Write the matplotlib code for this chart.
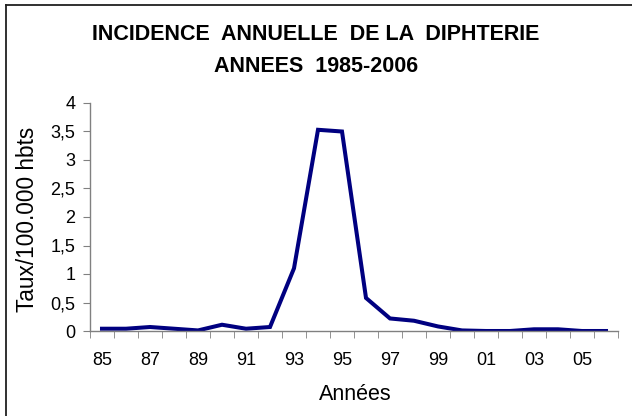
import matplotlib.pyplot as plt
from matplotlib.lines import Line2D

# data
annees = ['85', '86', '87', '88', '89', '90', '91', '92', '93', '94', '95',
          '96', '97', '98', '99', '00', '01', '02', '03', '04', '05', '06']
taux = [0.04, 0.04, 0.07, 0.04, 0.01, 0.11, 0.04, 0.07, 1.1, 3.53, 3.5,
        0.58, 0.22, 0.18, 0.08, 0.01, 0.0, 0.0, 0.03, 0.03, 0.0, 0.0]
y_ticks = [0, 0.5, 1, 1.5, 2, 2.5, 3, 3.5, 4]
y_labels = ['0', '0,5', '1', '1,5', '2', '2,5', '3', '3,5', '4']

plt.rcParams['font.family'] = ['Liberation Sans', 'DejaVu Sans']

W, H = 632, 416
fig = plt.figure(figsize=(W / 100, H / 100), dpi=100)
ax = fig.add_axes([90 / W, 1 - 331 / H, 528 / W, 228 / H])

x = list(range(len(annees)))
ax.plot(x, taux, color='#000080', linewidth=2.9, solid_joinstyle='miter')

ax.set_xlim(-0.5, len(annees) - 0.5)
ax.set_ylim(0, 4)

# category labels every other year, tick marks between categories
ax.set_xticks(x[::2])
ax.set_xticklabels(annees[::2], fontsize=13)
ax.set_xticks([i - 0.5 for i in range(len(annees) + 1)], minor=True)
ax.tick_params(axis='x', which='major', length=0, pad=15)
ax.tick_params(axis='x', which='minor', length=5, color='#808080', direction='out')

ax.set_yticks(y_ticks)
ax.set_yticklabels(y_labels, fontsize=13)
ax.tick_params(axis='y', length=5, color='#808080', direction='out', pad=5.5)

for s in ['top', 'right']:
    ax.spines[s].set_visible(False)
for s in ['left', 'bottom']:
    ax.spines[s].set_color('#808080')
    ax.spines[s].set_linewidth(1.0)

fig.text(28 / W, 1 - 219 / H, 'Taux/100.000 hbts', rotation=90,
         ha='center', va='center', fontsize=16.3)
fig.text(355 / W, 1 - 394 / H, 'Années', ha='center', va='center', fontsize=15.5)

fig.text(316 / W, 1 - 35 / H, 'INCIDENCE  ANNUELLE  DE LA  DIPHTERIE',
         ha='center', va='center', fontsize=15.5, fontweight='bold')
fig.text(316 / W, 1 - 67 / H, 'ANNEES  1985-2006',
         ha='center', va='center', fontsize=15.5, fontweight='bold')

# chart frame (only left and top edges visible)
fig.add_artist(Line2D([6 / W, 6 / W], [0, 1 - 5 / H], transform=fig.transFigure,
                      color='#202020', linewidth=1.3))
fig.add_artist(Line2D([6 / W, 1], [1 - 5 / H, 1 - 5 / H], transform=fig.transFigure,
                      color='#202020', linewidth=1.3))

fig.savefig('out.png', dpi=100)
